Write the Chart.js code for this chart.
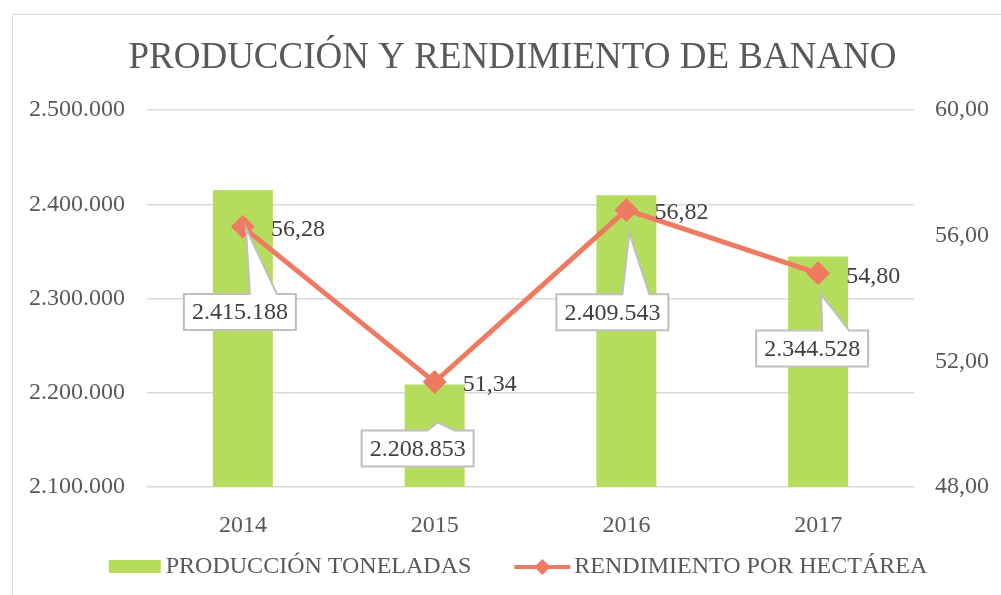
<!DOCTYPE html>
<html>
<head>
<meta charset="utf-8">
<script src="https://cdn.jsdelivr.net/npm/chart.js@4/dist/chart.umd.min.js"></script>
<style>
  html, body { margin: 0; padding: 0; background: #fff; overflow: hidden; }
  #wrap { position: relative; width: 1001px; height: 595px; overflow: hidden; }
  #frame { position: absolute; left: 12px; top: 14px; width: 1100px; height: 700px; border: 1.5px solid #d9d9d9; box-sizing: border-box; }
  canvas { position: absolute; left: 0; top: 0; }
</style>
</head>
<body>
<div id="wrap">
  <div id="frame"></div>
  <canvas id="chart" width="1001" height="595"></canvas>
</div>
<script>
// data
const years = ["2014", "2015", "2016", "2017"];
const produccion = [2415188, 2208853, 2409543, 2344528];
const rendimiento = [56.28, 51.34, 56.82, 54.80];
const seriesNames = ["PRODUCCIÓN TONELADAS", "RENDIMIENTO POR HECTÁREA"];
const chartTitle = "PRODUCCIÓN Y RENDIMIENTO DE BANANO";

const SERIF = '"Liberation Serif", "Times New Roman", serif';
const GREEN = "#b5dd5d";
const ORANGE = "#ef7a62";

// 2.415.188 / 56,28 style
const fmtMiles = (v) => Math.round(v).toString().replace(/\B(?=(\d{3})+(?!\d))/g, ".");
const fmtDec = (v) => v.toFixed(2).replace(".", ",");

// where each callout box sits, relative to the bar top
const calloutOffsets = [[-3, 122], [-17, 64], [-14, 117], [-6, 92]];

const labelsPlugin = {
  id: "labels",
  afterDatasetsDraw(chart) {
    const ctx = chart.ctx;
    ctx.save();
    ctx.font = "24px " + SERIF;
    ctx.textBaseline = "middle";

    // values next to the line markers
    chart.getDatasetMeta(1).data.forEach((pt, i) => {
      ctx.fillStyle = "#404040";
      ctx.textAlign = "left";
      ctx.fillText(fmtDec(rendimiento[i]), pt.x + 28, pt.y + 3);
    });

    // callout boxes for the bars
    chart.getDatasetMeta(0).data.forEach((bar, i) => {
      const text = fmtMiles(produccion[i]);
      const w = ctx.measureText(text).width + 16;
      const h = 36;
      const cx = bar.x + calloutOffsets[i][0];
      const cy = bar.y + calloutOffsets[i][1];
      const l = cx - w / 2, t = cy - h / 2;
      const tipX = bar.x + 3, tipY = bar.y + 38;
      ctx.beginPath();
      ctx.moveTo(l, t);
      ctx.lineTo(cx + 10, t);
      ctx.lineTo(tipX, tipY);
      ctx.lineTo(cx + 37, t);
      ctx.lineTo(l + w, t);
      ctx.lineTo(l + w, t + h);
      ctx.lineTo(l, t + h);
      ctx.closePath();
      ctx.fillStyle = "#fff";
      ctx.fill();
      ctx.strokeStyle = "#bfbfbf";
      ctx.lineWidth = 2;
      ctx.stroke();
      ctx.fillStyle = "#404040";
      ctx.textAlign = "center";
      ctx.fillText(text, cx, cy + 1);
    });
    ctx.restore();
  },
  afterDraw(chart) {
    // legend at the bottom, drawn by hand to get Excel spacing
    const ctx = chart.ctx;
    ctx.save();
    ctx.font = "24px " + SERIF;
    ctx.textBaseline = "middle";
    ctx.textAlign = "left";
    const w1 = ctx.measureText(seriesNames[0]).width;
    const w2 = ctx.measureText(seriesNames[1]).width;
    const total = 52 + 5 + w1 + 43 + 56 + 4 + w2;
    const y = 567;
    let x = 518 - total / 2;
    ctx.fillStyle = GREEN;
    ctx.fillRect(x, y - 7, 52, 13);
    x += 57;
    ctx.fillStyle = "#595959";
    ctx.fillText(seriesNames[0], x, y);
    x += w1 + 43;
    ctx.strokeStyle = ORANGE;
    ctx.lineWidth = 4;
    ctx.beginPath();
    ctx.moveTo(x, y);
    ctx.lineTo(x + 56, y);
    ctx.stroke();
    ctx.fillStyle = ORANGE;
    ctx.beginPath();
    ctx.moveTo(x + 28, y - 8);
    ctx.lineTo(x + 36, y);
    ctx.lineTo(x + 28, y + 8);
    ctx.lineTo(x + 20, y);
    ctx.closePath();
    ctx.fill();
    x += 60;
    ctx.fillStyle = "#595959";
    ctx.fillText(seriesNames[1], x, y);
    ctx.restore();
  }
};

const tickFont = { family: SERIF, size: 24 };

new Chart(document.getElementById("chart"), {
  type: "bar",
  data: {
    labels: years,
    datasets: [
      {
        type: "bar",
        label: seriesNames[0],
        data: produccion,
        backgroundColor: GREEN,
        yAxisID: "y",
        barPercentage: 0.313,
        categoryPercentage: 1,
        order: 1
      },
      {
        type: "line",
        label: seriesNames[1],
        data: rendimiento,
        borderColor: ORANGE,
        backgroundColor: ORANGE,
        borderWidth: 5,
        pointStyle: "rectRot",
        pointRadius: 12,
        pointBackgroundColor: ORANGE,
        pointBorderWidth: 0,
        tension: 0,
        yAxisID: "y1",
        order: 0
      }
    ]
  },
  options: {
    responsive: false,
    animation: false,
    devicePixelRatio: 1,
    layout: { padding: { left: 24, right: 0, top: 0, bottom: 53 } },
    plugins: {
      legend: { display: false },
      tooltip: { enabled: false },
      title: {
        display: true,
        text: chartTitle,
        color: "#595959",
        font: { family: SERIF, size: 37, weight: "normal" },
        padding: { top: 36, bottom: 29.6 }
      }
    },
    scales: {
      x: {
        grid: { display: false },
        border: { display: false },
        ticks: { font: tickFont, color: "#595959", padding: 16 },
        afterFit: (s) => { s.height = 55; }
      },
      y: {
        position: "left",
        min: 2100000,
        max: 2500000,
        ticks: { stepSize: 100000, font: tickFont, color: "#595959", padding: 22, callback: (v) => fmtMiles(v) },
        grid: { color: "#d9d9d9", lineWidth: 1.5, drawTicks: false },
        border: { display: false },
        afterFit: (s) => { s.width = 123; }
      },
      y1: {
        position: "right",
        min: 48,
        max: 60,
        ticks: { stepSize: 4, font: tickFont, color: "#595959", padding: 21, callback: (v) => fmtDec(v) },
        grid: { display: false, drawTicks: false },
        border: { display: false },
        afterFit: (s) => { s.width = 87; }
      }
    }
  },
  plugins: [labelsPlugin]
});
</script>
</body>
</html>
